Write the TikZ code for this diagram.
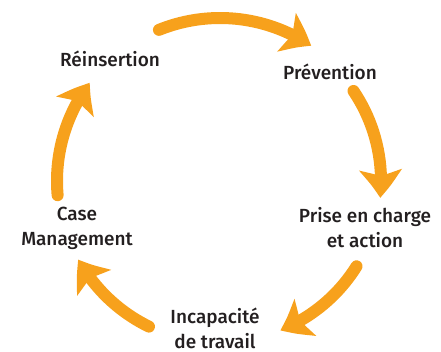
\documentclass[tikz,border=0pt]{standalone}
\usepackage{fontspec}
\setmainfont{Fira Sans}[BoldFont={Fira Sans Medium}]
\usepackage{tikz}
\usetikzlibrary{arrows.meta,bending}
\definecolor{cycleorange}{RGB}{247,161,28}
\definecolor{labelgray}{RGB}{35,31,32}

\begin{document}
\begin{tikzpicture}[x=1pt, y=1pt,
    cyclearrow/.style={cycleorange, line width=12pt, line cap=round,
      -{Stealth[length=28pt, width=42pt, inset=6pt, bend]}},
    steplabel/.style={labelgray, align=center,
      font=\fontsize{19}{25}\selectfont\bfseries}]
    \useasboundingbox (0,0) rectangle (441,351);
    \coordinate (c) at (220,170);

    % the five arcs of the cycle
    \draw[cyclearrow] (c) ++(112:163) arc[start angle=112, end angle=56, radius=163];
    \draw[cyclearrow] (c) ++(34:161) arc[start angle=34, end angle=-6, radius=161];
    \draw[cyclearrow] (c) ++(-32:161) arc[start angle=-32, end angle=-68, radius=161];
    \draw[cyclearrow] (c) ++(-116:162) arc[start angle=-116, end angle=-151, radius=162];
    \draw[cyclearrow] (c) ++(185:163) arc[start angle=185, end angle=143, radius=163];

    \node[steplabel] (rein) at (110,292) {Réinsertion};
    \node[steplabel] (prev) at (330,279) {Prévention};
    \node[steplabel] (prise) at (365,123) {Prise en charge\\et action};
    \node[steplabel] (incap) at (215,23) {Incapacité\\de travail};
    \node[steplabel] (case) at (77,123) {Case\\Management};
\end{tikzpicture}
\end{document}
